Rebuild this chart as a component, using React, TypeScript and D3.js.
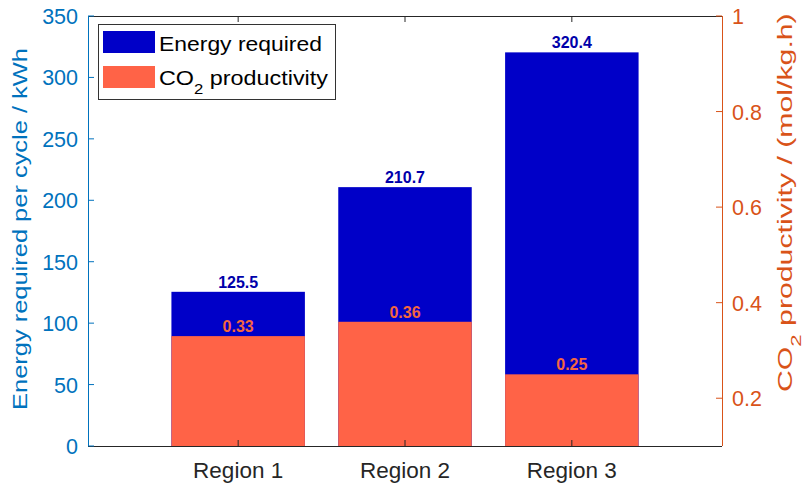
import React, { useLayoutEffect, useRef, useState } from "react";
import * as d3 from "d3";

const regions = ["Region 1", "Region 2", "Region 3"];
const energy = [125.5, 210.7, 320.4];
const productivity = [0.33, 0.36, 0.25];
const leftTicks = [0, 50, 100, 150, 200, 250, 300, 350];
const rightTicks = [0.2, 0.4, 0.6, 0.8, 1];

const W = 807;
const H = 486;
const m = { left: 88, right: 85, top: 16, bottom: 40 };
const FONT = "Liberation Sans, Arial, Helvetica, sans-serif";
const LEFT_C = "#0072BD";
const RIGHT_C = "#D95319";
const AX_C = "#262626";
const BLUE = "#0000C8";
const TOMATO = "#FF6347";

// Text widened horizontally (in its own frame) to a given run length.
function WideText(props: {
  x: number;
  y: number;
  rotate?: number;
  length: number;
  anchor: "start" | "middle" | "end";
  fontSize: number;
  fill: string;
  children: React.ReactNode;
}) {
  const ref = useRef<SVGTextElement>(null);
  const [sx, setSx] = useState(1);
  useLayoutEffect(() => {
    if (ref.current) {
      const w = ref.current.getComputedTextLength();
      if (w > 0) setSx(props.length / w);
    }
  }, [props.length]);
  return (
    <g transform={`translate(${props.x},${props.y}) rotate(${props.rotate || 0}) scale(${sx},1)`}>
      <text ref={ref} x={0} y={0} textAnchor={props.anchor} fontSize={props.fontSize} fill={props.fill}>
        {props.children}
      </text>
    </g>
  );
}

export default function App() {
  const x0 = m.left;
  const x1 = W - m.right;
  const y0 = H - m.bottom;
  const y1 = m.top;

  const x = d3.scaleLinear().domain([0.1, 3.9]).range([x0, x1]);
  const yL = d3.scaleLinear().domain([0, 350]).range([y0, y1]);
  const yR = d3.scaleLinear().domain([0.1, 1]).range([y0, y1]);
  const bw = (x(2) - x(1)) * 0.8;
  const tick = 6;

  return (
    <svg width={W} height={H} style={{ position: "absolute", left: 0, top: 0, fontFamily: FONT }}>
      <rect width={W} height={H} fill="#fff" />
      {/* bars: energy behind, productivity in front */}
      {energy.map((v, i) => (
        <rect key={"e" + i} x={x(i + 1) - bw / 2} y={yL(v)} width={bw} height={y0 - yL(v)} fill={BLUE} />
      ))}
      {productivity.map((v, i) => (
        <rect key={"p" + i} x={x(i + 1) - bw / 2} y={yR(v)} width={bw} height={y0 - yR(v)} fill={TOMATO} />
      ))}
      {energy.map((v, i) => (
        <text key={"el" + i} x={x(i + 1)} y={yL(v) - 4} textAnchor="middle" fontSize={16} fontWeight="bold" fill="#0000AA">
          {v.toFixed(1)}
        </text>
      ))}
      {productivity.map((v, i) => (
        <text key={"pl" + i} x={x(i + 1)} y={yR(v) - 4} textAnchor="middle" fontSize={16} fontWeight="bold" fill="#F4663F">
          {v.toFixed(2)}
        </text>
      ))}

      {/* box */}
      <line x1={x0} x2={x1} y1={y1 + 0.5} y2={y1 + 0.5} stroke={AX_C} strokeWidth={1} />
      <line x1={x0} x2={x1} y1={y0 + 0.5} y2={y0 + 0.5} stroke={AX_C} strokeWidth={1} />
      {regions.map((r, i) => (
        <g key={r}>
          <line x1={x(i + 1)} x2={x(i + 1)} y1={y0} y2={y0 - tick} stroke={AX_C} />
          <line x1={x(i + 1)} x2={x(i + 1)} y1={y1} y2={y1 + tick} stroke={AX_C} />
          <text x={x(i + 1)} y={y0 + 32} textAnchor="middle" fontSize={22.5} fill={AX_C}>
            {r}
          </text>
        </g>
      ))}

      {/* left axis */}
      <line x1={x0 + 0.5} x2={x0 + 0.5} y1={y1} y2={y0} stroke={LEFT_C} />
      {leftTicks.map((t) => (
        <g key={"lt" + t}>
          <line x1={x0} x2={x0 + tick} y1={yL(t)} y2={yL(t)} stroke={LEFT_C} />
          <text x={x0 - 10} y={yL(t) + 8} textAnchor="end" fontSize={21.5} fill={LEFT_C}>
            {t}
          </text>
        </g>
      ))}
      <WideText x={27} y={229} rotate={-90} length={362} anchor="middle" fontSize={20.5} fill={LEFT_C}>
        Energy required per cycle / kWh
      </WideText>

      {/* right axis */}
      <line x1={x1 + 0.5} x2={x1 + 0.5} y1={y1} y2={y0} stroke={RIGHT_C} />
      {rightTicks.map((t) => (
        <g key={"rt" + t}>
          <line x1={x1 - tick} x2={x1} y1={yR(t)} y2={yR(t)} stroke={RIGHT_C} />
          <text x={x1 + 10} y={yR(t) + 8} textAnchor="start" fontSize={21.5} fill={RIGHT_C}>
            {t}
          </text>
        </g>
      ))}
      <WideText x={792} y={392} rotate={-90} length={379} anchor="start" fontSize={20.5} fill={RIGHT_C}>
        CO<tspan baselineShift="sub" fontSize={15}>2</tspan> productivity / (mol/kg.h)
      </WideText>

      {/* legend */}
      <rect x={98.5} y={24.5} width={237} height={75} fill="#fff" stroke="#333" strokeWidth={1} />
      <rect x={103} y={31} width={52} height={22} fill={BLUE} />
      <rect x={103} y={66} width={52} height={22} fill={TOMATO} />
      <WideText x={159} y={51} length={163} anchor="start" fontSize={21} fill="#000">
        Energy required
      </WideText>
      <WideText x={159} y={85} length={169} anchor="start" fontSize={21} fill="#000">
        CO<tspan baselineShift="sub" fontSize={15}>2</tspan> productivity
      </WideText>
    </svg>
  );
}
